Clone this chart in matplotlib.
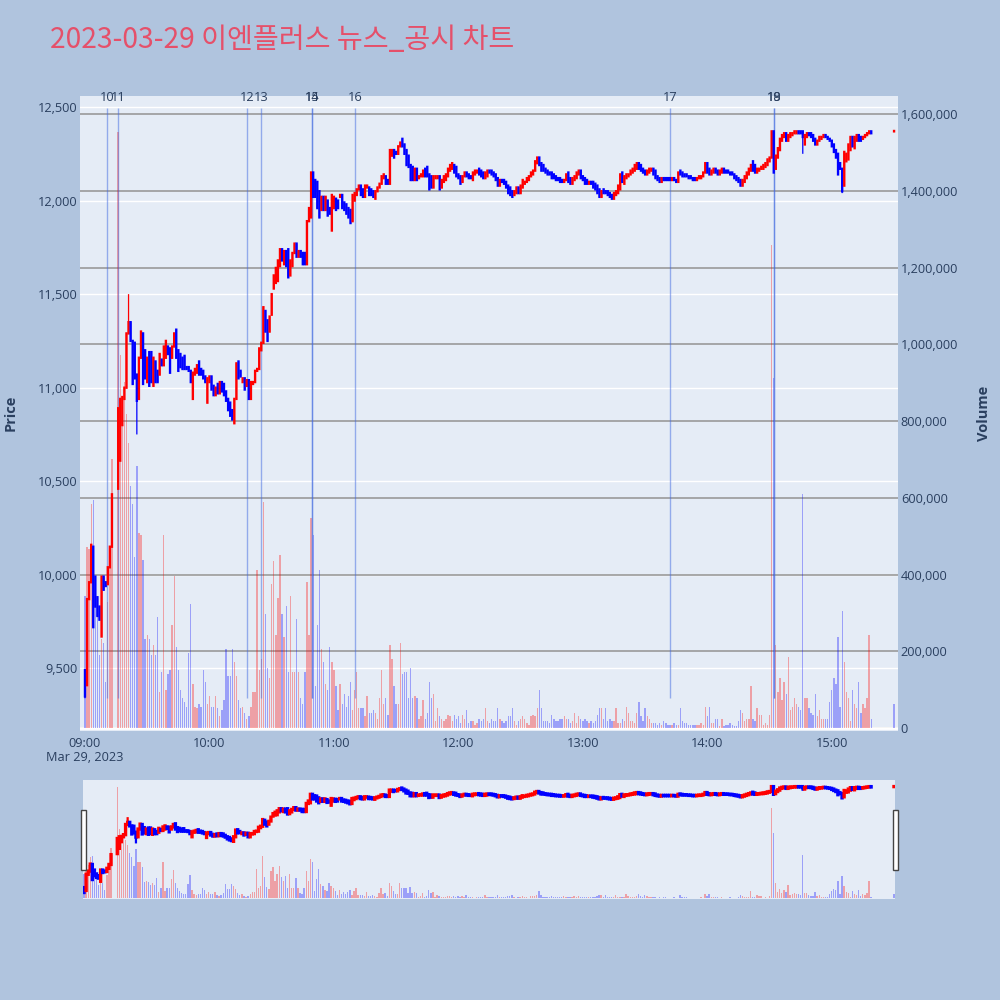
import numpy as np
import pandas as pd
import matplotlib
matplotlib.use('Agg')
import matplotlib.pyplot as plt
import matplotlib.dates as mdates
from matplotlib.patches import Rectangle
from matplotlib.ticker import FuncFormatter, FixedLocator
import matplotlib.transforms as mtransforms

plt.rcParams['font.family'] = ['Open Sans', 'Noto Sans CJK KR', 'DejaVu Sans']

TITLE = '2023-03-29 이엔플러스 뉴스_공시 차트'

session_start = '2023-03-29 09:00'
session_end = '2023-03-29 15:19'
halted = ['2023-03-29 09:14', '2023-03-29 09:15']
closing_auction = '2023-03-29 15:30'

open_ = [
    9490, 9410, 9870, 9960, 10150, 9990, 9880, 9830, 9670, 9990, 9960, 9950, 10040, 10150,
    10460, 10610, 10800, 10940, 11000, 11290, 11350, 11250, 11240, 11070,
    10940, 11160, 11290, 11200, 11030, 11190, 11190, 11010, 11140, 11090,
    11070, 11150, 11120, 11160, 11220, 11210, 11160, 11220, 11310, 11200,
    11180, 11160, 11170, 11110, 11110, 11090, 10940, 11070, 11080, 11140,
    11100, 11090, 11060, 10920, 11030, 11060, 11010, 10960, 11020, 10970,
    11030, 11020, 10980, 10940, 10920, 10880, 10810, 10940, 11140, 11090,
    11030, 11050, 11010, 11040, 10940, 11020, 11030, 11090, 11100, 11200,
    11240, 11410, 11360, 11300, 11390, 11530, 11560, 11570, 11650, 11740,
    11660, 11730, 11740, 11600, 11650, 11720, 11770, 11700, 11730, 11720,
    11720, 11660, 11890, 11910, 12150, 12110, 12100, 12050, 11950, 12020,
    11950, 12000, 11960, 11840, 11960, 12010, 12000, 12020, 12030, 11990,
    11980, 11960, 11950, 11890, 12000, 12030, 12060, 12080, 12060, 12020,
    12070, 12070, 12060, 12050, 12010, 12050, 12070, 12090, 12120, 12130,
    12110, 12090, 12240, 12270, 12260, 12250, 12290, 12330, 12300, 12270,
    12240, 12190, 12180, 12110, 12170, 12120, 12130, 12130, 12170, 12180,
    12140, 12130, 12070, 12120, 12120, 12130, 12070, 12100, 12110, 12130,
    12160, 12170, 12190, 12180, 12140, 12130, 12100, 12130, 12150, 12140,
    12130, 12110, 12140, 12150, 12170, 12160, 12150, 12120, 12130, 12160,
    12160, 12150, 12140, 12120, 12080, 12110, 12110, 12100, 12080, 12070,
    12050, 12030, 12040, 12070, 12040, 12070, 12090, 12100, 12110, 12130,
    12140, 12160, 12200, 12230, 12200, 12190, 12170, 12160, 12150, 12150,
    12140, 12130, 12120, 12120, 12110, 12100, 12110, 12150, 12120, 12090,
    12110, 12120, 12140, 12160, 12130, 12120, 12110, 12090, 12100, 12100,
    12090, 12080, 12060, 12020, 12060, 12050, 12050, 12040, 12030, 12010,
    12030, 12040, 12060, 12150, 12090, 12120, 12130, 12140, 12150, 12160,
    12170, 12200, 12190, 12170, 12160, 12140, 12150, 12160, 12170, 12160,
    12130, 12120, 12100, 12120, 12120, 12120, 12120, 12110, 12120, 12110,
    12100, 12160, 12150, 12140, 12140, 12130, 12130, 12120, 12120, 12110,
    12120, 12120, 12130, 12150, 12200, 12170, 12140, 12150, 12170, 12160,
    12140, 12150, 12170, 12160, 12160, 12150, 12150, 12140, 12130, 12120,
    12110, 12080, 12100, 12120, 12140, 12160, 12210, 12190, 12150, 12160,
    12170, 12170, 12180, 12190, 12210, 12230, 12370, 12170, 12230, 12270,
    12320, 12340, 12360, 12320, 12340, 12350, 12360, 12360, 12370, 12370,
    12370, 12300, 12340, 12360, 12360, 12350, 12330, 12300, 12320, 12330,
    12340, 12350, 12340, 12330, 12320, 12300, 12270, 12250, 12200, 12170,
    12080, 12210, 12220, 12270, 12340, 12280, 12320, 12350, 12340, 12330,
    12340, 12350, 12360, 12370,
    12370,
]
close = [
    9350, 9870, 9960, 10160, 9720, 9830, 9780, 9760, 9990, 9920, 9940, 10040, 10150, 10430,
    10890, 10940, 10950, 11000, 11290, 11350, 11250, 11020, 11050, 10930,
    11160, 11300, 11020, 11050, 11160, 11010, 11030, 11160, 11030, 11030,
    11180, 11120, 11220, 11250, 11180, 11080, 11220, 11290, 11160, 11090,
    11110, 11100, 11100, 11100, 11090, 11030, 11080, 11100, 11120, 11070,
    11070, 11050, 11030, 11050, 11060, 10990, 10960, 11000, 10970, 11030,
    10980, 10960, 10930, 10880, 10850, 10830, 10940, 11130, 11050, 11060,
    11050, 10990, 11040, 10940, 11030, 11030, 11090, 11100, 11210, 11240,
    11430, 11300, 11250, 11380, 11500, 11600, 11640, 11680, 11740, 11680,
    11730, 11650, 11590, 11680, 11720, 11770, 11700, 11730, 11700, 11660,
    11660, 11890, 11960, 12150, 12020, 12020, 11960, 11910, 12020, 11950,
    12020, 11920, 11930, 12030, 12020, 11950, 11960, 12030, 11960, 11950,
    11930, 11910, 11880, 12030, 12040, 12060, 12080, 12030, 12020, 12080,
    12080, 12030, 12030, 12020, 12050, 12070, 12090, 12130, 12140, 12090,
    12090, 12270, 12270, 12230, 12250, 12290, 12310, 12290, 12250, 12190,
    12180, 12110, 12110, 12170, 12110, 12130, 12140, 12160, 12130, 12130,
    12060, 12070, 12130, 12130, 12130, 12060, 12110, 12130, 12140, 12170,
    12190, 12200, 12150, 12130, 12120, 12090, 12130, 12150, 12130, 12120,
    12120, 12150, 12160, 12160, 12140, 12130, 12120, 12150, 12160, 12150,
    12140, 12130, 12110, 12080, 12110, 12100, 12090, 12070, 12040, 12030,
    12020, 12050, 12070, 12040, 12080, 12110, 12100, 12120, 12130, 12150,
    12160, 12210, 12230, 12190, 12160, 12160, 12150, 12140, 12140, 12120,
    12120, 12110, 12110, 12100, 12100, 12110, 12140, 12100, 12090, 12120,
    12130, 12150, 12160, 12120, 12110, 12090, 12090, 12100, 12090, 12070,
    12060, 12040, 12020, 12050, 12040, 12040, 12030, 12020, 12010, 12040,
    12050, 12080, 12140, 12100, 12130, 12140, 12140, 12160, 12170, 12190,
    12200, 12170, 12160, 12150, 12140, 12160, 12170, 12170, 12140, 12120,
    12110, 12100, 12120, 12110, 12110, 12110, 12110, 12120, 12110, 12100,
    12150, 12140, 12130, 12130, 12130, 12120, 12120, 12110, 12110, 12120,
    12130, 12130, 12150, 12200, 12150, 12140, 12160, 12170, 12150, 12140,
    12160, 12170, 12150, 12150, 12150, 12140, 12140, 12120, 12110, 12100,
    12080, 12110, 12130, 12150, 12170, 12190, 12160, 12150, 12170, 12170,
    12180, 12190, 12200, 12220, 12230, 12370, 12150, 12240, 12280, 12330,
    12350, 12360, 12320, 12350, 12360, 12360, 12370, 12370, 12360, 12360,
    12340, 12350, 12360, 12350, 12340, 12320, 12300, 12320, 12340, 12340,
    12350, 12340, 12330, 12320, 12290, 12260, 12230, 12140, 12170, 12050,
    12260, 12250, 12300, 12340, 12290, 12340, 12350, 12320, 12320, 12340,
    12350, 12360, 12370, 12360,
    12370,
]
volume_k = [
    344, 471, 466, 583, 594, 392, 317, 189, 232, 221, 120, 328, 423, 700,
    1553, 971, 838, 902, 817, 743, 631, 583, 445, 684,
    509, 503, 439, 232, 243, 232, 189, 216, 189, 290,
    94, 147, 503, 99, 141, 152, 269, 397, 211, 152,
    99, 78, 67, 56, 195, 322, 115, 56, 51, 62,
    56, 152, 120, 62, 83, 56, 56, 83, 51, 30,
    46, 72, 205, 136, 136, 205, 173, 136, 72, 51,
    56, 40, 24, 30, 56, 94, 94, 413, 152, 179,
    588, 296, 157, 131, 376, 434, 243, 338, 450, 296,
    237, 317, 147, 344, 147, 147, 285, 147, 78, 62,
    147, 381, 243, 546, 503, 110, 269, 413, 205, 173,
    115, 99, 211, 173, 152, 110, 46, 115, 62, 88,
    56, 83, 120, 46, 99, 147, 51, 51, 51, 30,
    83, 40, 40, 46, 40, 24, 78, 152, 62, 78,
    35, 216, 179, 110, 62, 62, 221, 141, 147, 147,
    78, 157, 78, 83, 78, 24, 30, 72, 24, 40,
    120, 78, 88, 19, 51, 30, 24, 19, 24, 35,
    30, 19, 35, 24, 30, 14, 35, 24, 46, 14,
    19, 19, 9, 14, 24, 19, 24, 51, 19, 14,
    24, 19, 19, 51, 24, 19, 14, 19, 30, 30,
    51, 19, 9, 19, 24, 30, 24, 14, 9, 30,
    35, 30, 51, 99, 51, 19, 19, 19, 14, 35,
    24, 19, 19, 24, 24, 30, 24, 24, 14, 19,
    40, 14, 30, 24, 19, 24, 19, 14, 19, 14,
    19, 35, 51, 51, 24, 51, 19, 24, 19, 19,
    51, 14, 14, 24, 19, 56, 40, 19, 19, 14,
    40, 67, 30, 19, 51, 30, 24, 14, 14, 14,
    9, 14, 9, 19, 14, 9, 9, 9, 14, 9,
    9, 51, 19, 14, 14, 9, 9, 9, 9, 9,
    9, 14, 9, 56, 30, 56, 14, 14, 24, 24,
    5, 24, 5, 9, 9, 14, 9, 5, 5, 19,
    46, 40, 19, 24, 24, 110, 24, 19, 51, 35,
    35, 9, 14, 9, 35, 1259, 913, 216, 94, 131,
    72, 120, 88, 184, 46, 56, 78, 62, 56, 46,
    610, 78, 78, 51, 40, 35, 88, 30, 46, 24,
    24, 24, 24, 67, 99, 131, 115, 237, 56, 306,
    173, 94, 78, 19, 99, 62, 51, 120, 40, 62,
    51, 78, 243, 24,
    62,
]
high_wick = {'09:21': 11500, '11:33': 12330, '12:38': 12230}
low_wick = {'09:00': 9340, '09:25': 10750, '10:59': 11840, '14:46': 12250, '15:05': 12040}

news_labels = ['10', '11', '12', '13', '14', '15', '16', '17', '18', '19']
news_times = ['09:10:30', '09:16:00', '10:18:10', '10:25:05', '10:49:35',
              '10:49:40', '11:10:20', '13:42:10', '14:32:00', '14:32:05']

price_ticks = [9500, 10000, 10500, 11000, 11500, 12000, 12500]
volume_ticks = [0, 200000, 400000, 600000, 800000, 1000000, 1200000, 1400000, 1600000]

# ---------------------------------------------------------------- build data
t = pd.date_range(session_start, session_end, freq='min')
t = t.drop(pd.to_datetime(halted)).append(pd.DatetimeIndex([pd.Timestamp(closing_auction)]))
o = np.array(open_, float)
c = np.array(close, float)
vol = np.array(volume_k, float) * 1000
assert len(t) == len(o) == len(c) == len(vol)
hi = np.maximum(o, c)
lo = np.minimum(o, c)
labels_hm = list(t.strftime('%H:%M'))
for k, v in high_wick.items():
    hi[labels_hm.index(k)] = v
for k, v in low_wick.items():
    lo[labels_hm.index(k)] = v
x = mdates.date2num(t.to_pydatetime())
MIN = 1.0 / 1440
up = c >= o
cand_col = np.where(up, '#ff0000', '#0000ff')
vol_col = np.where(c > o, '#ff0000', '#0000ff')
news_x = mdates.date2num(pd.to_datetime(['2023-03-29 ' + s for s in news_times]).to_pydatetime())

BG = '#b0c4de'
PLOT_BG = '#e5ecf6'
TXT = '#2a3f5f'
PRICE_LIM = (9165, 12559)
VOL_LIM = (-7800, 1647000)

fig = plt.figure(figsize=(10, 10), dpi=100, facecolor=BG)

fig.text(0.05, 0.96, TITLE, fontsize=20.3, color='#e5506a', ha='left', va='center',
         family=['Noto Sans CJK KR', 'DejaVu Sans'])


def draw_candles(ax, lw_body, lw_wick):
    body_lo = np.minimum(o, c)
    body_hi = np.maximum(o, c)
    body_hi = np.where(body_hi == body_lo, body_hi + 2.0, body_hi)  # keep doji visible
    ax.vlines(x, lo, hi, colors=cand_col, lw=lw_wick, zorder=3, snap=False)
    ax.vlines(x, body_lo, body_hi, colors=cand_col, lw=lw_body,
              capstyle='projecting', zorder=4, snap=False)


def style_clean(ax):
    for s in ax.spines.values():
        s.set_visible(False)


# ---------------------------------------------------------------- main chart
ax_p = fig.add_axes([0.080, 0.269, 0.818, 0.635])
ax_p.set_facecolor(PLOT_BG)
style_clean(ax_p)
ax_p.set_ylim(*PRICE_LIM)
ax_p.set_xlim(x[0] - 2.4 * MIN, x[-1] + 1.9 * MIN)
ax_p.yaxis.set_major_locator(FixedLocator(price_ticks))
ax_p.yaxis.set_major_formatter(FuncFormatter(lambda v, p: f'{v:,.0f}'))
ax_p.grid(True, axis='y', color='white', lw=1.0)
ax_p.grid(False, axis='x')
ax_p.tick_params(axis='both', length=0, labelsize=9.2, labelcolor=TXT)
ax_p.tick_params(axis='y', pad=2)
ax_p.tick_params(axis='x', pad=4)
ax_p.xaxis.set_major_locator(mdates.HourLocator())
ax_p.xaxis.set_major_formatter(mdates.DateFormatter('%H:%M'))
ax_p.text(mdates.date2num(pd.Timestamp(session_start).to_pydatetime()), -0.042, 'Mar 29, 2023',
          transform=mtransforms.blended_transform_factory(ax_p.transData, ax_p.transAxes),
          ha='center', va='center', fontsize=9.2, color=TXT)
fig.text(0.011, 0.587, 'Price', rotation=90, ha='center', va='center', fontsize=10.5,
         fontweight='bold', color=TXT)
fig.text(0.984, 0.587, 'Volume', rotation=90, ha='center', va='center', fontsize=10.5,
         fontweight='bold', color=TXT)

ax_v = ax_p.twinx()
style_clean(ax_v)
ax_v.patch.set_visible(False)
ax_v.set_ylim(*VOL_LIM)
ax_v.yaxis.set_major_locator(FixedLocator(volume_ticks))
ax_v.yaxis.set_major_formatter(FuncFormatter(lambda v, p: f'{v:,.0f}'))
ax_v.grid(True, axis='y', color='#9a9a9a', lw=1.2)
ax_v.set_axisbelow(True)
ax_v.tick_params(axis='y', length=0, labelsize=9.2, labelcolor=TXT, pad=2)
ax_v.bar(x, vol, width=0.65 * MIN, color=vol_col, alpha=0.32, lw=0, zorder=2)
ax_v.axhline(0, color='white', lw=2, zorder=1.5)

ax_c = ax_p.twinx()
style_clean(ax_c)
ax_c.patch.set_visible(False)
ax_c.set_ylim(*PRICE_LIM)
ax_c.set_yticks([])
ax_c.vlines(news_x, lo.min(), hi.max() * 1.01, colors='#4169e1', lw=1.0, alpha=0.5, zorder=2)
trans = mtransforms.blended_transform_factory(ax_c.transData, ax_c.transAxes)
for lab, nx in zip(news_labels, news_x):
    ax_c.text(nx, 0.998, lab, transform=trans, ha='center', va='center', fontsize=9.2,
              color=TXT, zorder=5)
draw_candles(ax_c, 1.7, 0.9)
ax_c.set_xlim(ax_p.get_xlim())

# ---------------------------------------------------------------- range slider
ax_s = fig.add_axes([0.083, 0.101, 0.812, 0.119])
ax_s.set_facecolor(PLOT_BG)
style_clean(ax_s)
ax_s.set_xlim(x[0] - 0.5 * MIN, x[-1] + 0.5 * MIN)
ax_s.set_ylim(*VOL_LIM)
ax_s.set_xticks([])
ax_s.set_yticks([])
ax_s.bar(x, vol, width=0.65 * MIN, color=vol_col, alpha=0.32, lw=0, zorder=2)
ax_sc = ax_s.twinx()
style_clean(ax_sc)
ax_sc.patch.set_visible(False)
ax_sc.set_ylim(*PRICE_LIM)
ax_sc.set_yticks([])
draw_candles(ax_sc, 2.4, 1.6)
ax_sc.set_xlim(ax_s.get_xlim())

for hx in (0.081, 0.893):
    fig.add_artist(Rectangle((hx, 0.130), 0.005, 0.060, transform=fig.transFigure,
                             facecolor='white', edgecolor='#444444', lw=1.0, zorder=10))

fig.savefig('out.png', dpi=100, facecolor=BG)
